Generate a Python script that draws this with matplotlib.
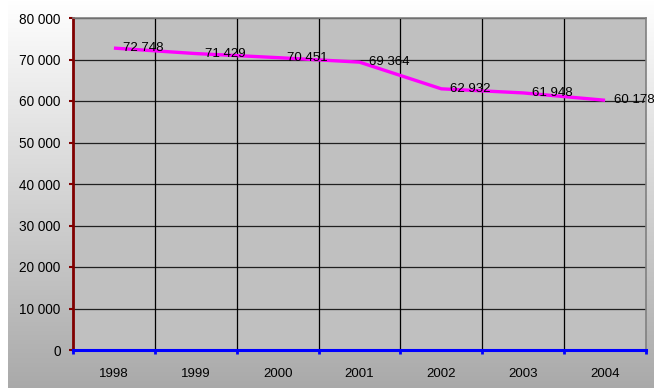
import matplotlib
matplotlib.use("Agg")
from matplotlib import pyplot as plt
import numpy as np

years = ["1998", "1999", "2000", "2001", "2002", "2003", "2004"]
values = [72748, 71429, 70451, 69364, 62932, 61948, 60178]
labels = ["72 748", "71 429", "70 451", "69 364", "62 932", "61 948", "60 178"]
y_ticks = [0, 10000, 20000, 30000, 40000, 50000, 60000, 70000, 80000]

plt.rcParams["font.family"] = ["Liberation Sans", "DejaVu Sans"]
W, H = 654, 388
fig = plt.figure(figsize=(W / 100, H / 100), dpi=100)
fig.patch.set_facecolor("white")

# gradient backdrop
bg = fig.add_axes([8 / W, 0, 1 - 8 / W, 1], zorder=-1)
grad = np.linspace(1.0, 0.665, 256).reshape(-1, 1)
bg.imshow(np.dstack([grad, grad, grad]), aspect="auto", extent=[0, 1, 0, 1])
bg.axis("off")

ax = fig.add_axes([73 / W, (H - 350) / H, 573 / W, 332 / H])
ax.set_facecolor("#c0c0c0")

x = np.arange(len(years))
ax.plot(x, values, color="#ff00ff", lw=2.4, zorder=3, solid_capstyle="butt")
for xi, v, lab in zip(x, values, labels):
    ax.annotate(lab, (xi, v), xytext=(6.5, 0), textcoords="offset points",
                ha="left", va="center", fontsize=9.5, color="black", zorder=4)

ax.set_xlim(-0.5, len(years) - 0.5)
ax.set_ylim(0, 80000)

# horizontal gridlines
ax.set_yticks(y_ticks)
ax.set_yticklabels([f"{t:,}".replace(",", " ") for t in y_ticks], fontsize=9.8)
ax.yaxis.grid(True, color="#202020", lw=0.9)
# category boundaries
bounds = np.arange(-0.5, len(years) + 0.5, 1.0)
ax.set_xticks(bounds)
ax.set_xticklabels([""] * len(bounds))
ax.set_xticks(x, minor=True)
ax.set_xticklabels(years, minor=True, fontsize=9.5)
for b in bounds[1:-1]:
    ax.axvline(b, color="black", lw=0.9, zorder=1)
ax.set_axisbelow(True)

ax.tick_params(axis="x", which="major", length=3, width=2, color="#0000ff", direction="out")
ax.tick_params(axis="x", which="minor", length=0, pad=13)
ax.tick_params(axis="y", length=3, width=1.5, color="#800000", pad=6)

ax.spines["left"].set_color("#800000")
ax.spines["left"].set_linewidth(2)
ax.spines["bottom"].set_color("#0000ff")
ax.spines["bottom"].set_linewidth(2.2)
ax.spines["bottom"].set_zorder(5)
for s in ("top", "right"):
    ax.spines[s].set_color("#808080")
    ax.spines[s].set_linewidth(1.2)

fig.savefig("out.png", dpi=100)
